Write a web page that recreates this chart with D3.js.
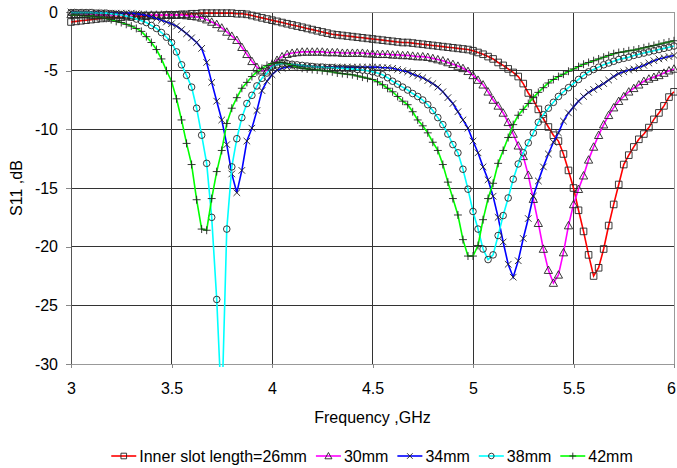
<!DOCTYPE html>
<html>
<head>
<meta charset="utf-8">
<script src="https://cdn.jsdelivr.net/npm/d3@7"></script>
<style>
body{margin:0;background:#fff;}
text{font-family:"Liberation Sans",Arial,sans-serif;fill:#000;}
</style>
</head>
<body>
<div class="canvas"></div>
<script>
/* S11 vs frequency for different inner slot lengths */

// frequency sweep, 3 - 6 GHz in 0.025 GHz steps
var freq = d3.range(0,121).map(function(i){return +(3+i*0.025).toFixed(3);});

// S11 in dB, one value per frequency point
var s26 = [-0.85,-0.8,-0.75,-0.7,-0.65,-0.6,-0.55,-0.5,-0.5,-0.45,
    -0.45,-0.4,-0.4,-0.35,-0.35,-0.35,-0.3,-0.3,-0.3,-0.25,
    -0.25,-0.25,-0.2,-0.2,-0.15,-0.15,-0.1,-0.1,-0.1,-0.1,
    -0.1,-0.1,-0.1,-0.15,-0.15,-0.2,-0.3,-0.4,-0.5,-0.6,
    -0.7,-0.8,-0.9,-1.0,-1.1,-1.2,-1.3,-1.4,-1.5,-1.6,
    -1.7,-1.8,-1.9,-1.95,-2.0,-2.05,-2.1,-2.15,-2.2,-2.25,
    -2.3,-2.35,-2.4,-2.45,-2.5,-2.55,-2.6,-2.6,-2.65,-2.7,
    -2.75,-2.8,-2.85,-2.9,-2.95,-3.0,-3.05,-3.1,-3.15,-3.2,
    -3.3,-3.45,-3.6,-3.8,-4.0,-4.3,-4.55,-4.85,-5.15,-5.5,
    -6.1,-6.9,-7.5,-8.3,-9.1,-9.8,-10.5,-11.0,-12.1,-13.5,
    -15.0,-16.9,-18.7,-20.7,-22.5,-21.8,-20.2,-18.2,-16.4,-14.7,
    -13.0,-12.2,-11.5,-10.85,-10.4,-9.85,-9.15,-8.6,-8.0,-7.25,
    -6.8];
var s30 = [-0.2,-0.2,-0.2,-0.2,-0.25,-0.25,-0.25,-0.25,-0.25,-0.25,
    -0.25,-0.25,-0.25,-0.25,-0.25,-0.25,-0.25,-0.25,-0.25,-0.25,
    -0.25,-0.25,-0.25,-0.3,-0.35,-0.4,-0.5,-0.65,-0.85,-1.05,
    -1.35,-1.7,-2.05,-2.4,-3.0,-3.6,-4.2,-4.7,-5.0,-5.0,
    -4.5,-4.1,-3.8,-3.6,-3.5,-3.45,-3.4,-3.4,-3.4,-3.4,
    -3.4,-3.45,-3.45,-3.45,-3.5,-3.5,-3.5,-3.5,-3.5,-3.55,
    -3.55,-3.6,-3.6,-3.6,-3.65,-3.65,-3.7,-3.7,-3.75,-3.8,
    -3.8,-3.85,-3.95,-4.05,-4.15,-4.3,-4.45,-4.6,-4.8,-5.05,
    -5.4,-5.8,-6.2,-6.8,-7.5,-8.0,-8.6,-9.4,-10.4,-11.4,
    -12.3,-13.9,-15.95,-18.0,-20.2,-22.0,-23.1,-22.4,-20.5,-18.2,
    -16.4,-15.1,-13.95,-12.6,-11.5,-10.5,-9.6,-8.8,-8.15,-7.6,
    -7.2,-6.8,-6.5,-6.2,-5.9,-5.7,-5.55,-5.4,-5.2,-5.0,
    -4.85];
var s34 = [0,-0.05,-0.05,-0.05,-0.05,-0.05,-0.05,-0.1,-0.1,-0.1,
    -0.1,-0.1,-0.1,-0.15,-0.2,-0.3,-0.4,-0.55,-0.7,-0.85,
    -1.0,-1.2,-1.5,-1.85,-2.2,-2.6,-3.1,-4.3,-6.0,-7.6,
    -9.2,-11.3,-13.8,-15.4,-13.5,-11.0,-9.9,-8.4,-6.7,-5.9,
    -5.35,-4.95,-4.8,-4.7,-4.65,-4.6,-4.6,-4.6,-4.65,-4.65,
    -4.7,-4.7,-4.7,-4.7,-4.7,-4.7,-4.7,-4.7,-4.7,-4.7,
    -4.7,-4.7,-4.75,-4.75,-4.8,-4.9,-5.0,-5.1,-5.3,-5.45,
    -5.6,-5.85,-6.1,-6.4,-6.8,-7.3,-7.8,-8.5,-9.2,-9.9,
    -11.0,-12.0,-13.2,-14.3,-15.7,-17.5,-19.6,-21.5,-22.6,-21.2,
    -19.3,-17.6,-15.7,-14.4,-13.2,-12.1,-11.1,-10.3,-9.3,-8.6,
    -8.1,-7.6,-7.2,-6.85,-6.6,-6.35,-6.1,-5.8,-5.5,-5.25,
    -5.1,-4.95,-4.85,-4.7,-4.55,-4.35,-4.15,-4.0,-3.9,-3.8,
    -3.7];
var s38 = [-0.05,-0.05,-0.05,-0.05,-0.05,-0.1,-0.1,-0.1,-0.15,-0.2,
    -0.25,-0.35,-0.45,-0.6,-0.75,-0.9,-1.15,-1.4,-1.75,-2.15,
    -2.6,-3.4,-4.5,-5.4,-6.4,-8.2,-10.5,-12.9,-17.5,-24.5,
    -34.0,-18.5,-13.2,-10.8,-9.0,-7.8,-7.1,-6.3,-5.65,-5.2,
    -4.65,-4.5,-4.4,-4.4,-4.45,-4.5,-4.55,-4.6,-4.65,-4.7,
    -4.7,-4.75,-4.75,-4.8,-4.8,-4.85,-4.85,-4.9,-4.95,-5.0,
    -5.1,-5.2,-5.35,-5.6,-5.9,-6.15,-6.4,-6.65,-6.95,-7.2,
    -7.5,-7.9,-8.4,-9.0,-9.6,-10.4,-11.3,-12.0,-13.4,-15.1,
    -17.0,-18.5,-20.2,-21.1,-20.7,-19.05,-17.35,-15.85,-14.25,-12.95,
    -12.0,-11.15,-10.3,-9.4,-8.75,-8.2,-7.7,-7.2,-6.8,-6.45,
    -6.1,-5.75,-5.4,-5.1,-4.9,-4.7,-4.5,-4.35,-4.2,-4.05,
    -3.95,-3.85,-3.7,-3.6,-3.5,-3.4,-3.3,-3.2,-3.1,-3.0,
    -2.9];
var s42 = [-0.25,-0.25,-0.3,-0.3,-0.35,-0.4,-0.45,-0.55,-0.65,-0.8,
    -0.9,-1.05,-1.2,-1.4,-1.65,-2.1,-2.6,-3.2,-4.0,-5.0,
    -5.9,-7.4,-9.2,-11.2,-13.0,-16.0,-18.5,-18.6,-15.9,-13.6,
    -11.8,-9.5,-8.2,-7.3,-6.5,-6.0,-5.5,-5.1,-4.8,-4.55,
    -4.4,-4.3,-4.3,-4.4,-4.55,-4.7,-4.8,-4.85,-4.9,-4.95,
    -5.0,-5.05,-5.1,-5.2,-5.25,-5.3,-5.35,-5.45,-5.55,-5.65,
    -5.75,-5.95,-6.2,-6.5,-6.8,-7.2,-7.6,-7.9,-8.5,-9.2,
    -9.7,-10.3,-11.1,-11.8,-13.0,-14.5,-15.9,-17.3,-19.4,-20.8,
    -20.8,-19.9,-17.7,-15.9,-14.6,-12.9,-11.8,-10.7,-9.6,-8.8,
    -8.3,-7.8,-7.3,-6.85,-6.45,-6.05,-5.75,-5.5,-5.3,-5.05,
    -4.85,-4.65,-4.45,-4.3,-4.15,-4.0,-3.85,-3.7,-3.55,-3.45,
    -3.4,-3.3,-3.25,-3.15,-3.05,-2.95,-2.85,-2.75,-2.65,-2.55,
    -2.45];

var seriesNames = ["Inner slot length=26mm","30mm","34mm","38mm","42mm"];
var seriesColors = ["#ff0000","#ff00ff","#0000ff","#00ffff","#00ff00"];
var seriesMarkers = ["square","triangle","cross","circle","plus"];
var xTicks = [3,3.5,4,4.5,5,5.5,6];
var yTicks = [0,-5,-10,-15,-20,-25,-30];

var series = [s26,s30,s34,s38,s42].map(function(vals,k){
    return {
        name:seriesNames[k],
        color:seriesColors[k],
        marker:seriesMarkers[k],
        values:vals.map(function(v,i){return {f:freq[i],s:v};})
    };
});

/* canvas */
var margin = {t:12,r:3,b:104,l:71};
var W = 677, H = 468;
var width = W - margin.l - margin.r,
    height = H - margin.t - margin.b;

var svg = d3.select('.canvas')
    .append('svg')
    .attr('width',W)
    .attr('height',H);
var canvas = svg.append('g')
    .attr('transform','translate('+margin.l+','+margin.t+')');

var x = d3.scaleLinear().domain([3,6]).range([0,width]);
var y = d3.scaleLinear().domain([-30,0]).range([height,0]);

// grid
canvas.append('g').selectAll('line.vg')
    .data(xTicks.slice(1,-1))
    .enter().append('line')
    .attr('x1',function(d){return x(d)}).attr('x2',function(d){return x(d)})
    .attr('y1',0).attr('y2',height)
    .style('stroke','#333').style('shape-rendering','crispEdges');
canvas.append('g').selectAll('line.hg')
    .data(yTicks.slice(1,-1))
    .enter().append('line')
    .attr('x1',0).attr('x2',width)
    .attr('y1',function(d){return y(d)}).attr('y2',function(d){return y(d)})
    .style('stroke','#333').style('shape-rendering','crispEdges');

canvas.append('rect')
    .attr('x',0).attr('y',0).attr('width',width).attr('height',height)
    .style('fill','none').style('stroke','#999').style('shape-rendering','crispEdges');
canvas.append('line')
    .attr('x1',0).attr('x2',0).attr('y1',0).attr('y2',height)
    .style('stroke','#555').style('shape-rendering','crispEdges');

// axes
var xAxis = canvas.append('g')
    .attr('transform','translate(0,'+height+')')
    .call(d3.axisBottom(x).tickValues(xTicks).tickSize(4).tickPadding(15)
        .tickFormat(function(d){return String(d)}));
var yAxis = canvas.append('g')
    .call(d3.axisLeft(y).tickValues(yTicks).tickSize(5).tickPadding(8)
        .tickFormat(function(d){return String(d)}));
[xAxis,yAxis].forEach(function(a){
    a.select('.domain').remove();
    a.selectAll('line').style('stroke','#888').style('shape-rendering','crispEdges');
    a.selectAll('text').style('font-size','16px').style('font-family','"Liberation Sans",Arial,sans-serif');
});
// keep the last x label inside the page
xAxis.selectAll('.tick').filter(function(d){return d==6}).select('text').attr('dx',-3);

svg.append('text')
    .attr('x',margin.l+width/2).attr('y',423)
    .attr('text-anchor','middle').style('font-size','16px')
    .text('Frequency ,GHz');
svg.append('text')
    .attr('transform','translate(22,'+(margin.t+height/2)+') rotate(-90)')
    .attr('text-anchor','middle').style('font-size','16px')
    .text('S11 ,dB');

// curves
svg.append('defs').append('clipPath').attr('id','plotclip')
    .append('rect').attr('x',-8).attr('y',-8).attr('width',width+16).attr('height',height+11);

function markerPath(type,r){
    if(type=='square') return 'M'+(-r)+','+(-r)+'h'+(2*r)+'v'+(2*r)+'h'+(-2*r)+'z';
    if(type=='triangle') return 'M0,'+(-r*1.25)+'L'+(r*1.25)+','+(r)+'H'+(-r*1.25)+'Z';
    if(type=='cross') return 'M'+(-r)+','+(-r)+'L'+r+','+r+'M'+(-r)+','+r+'L'+r+','+(-r);
    if(type=='circle') return 'M'+r+',0A'+r+','+r+' 0 1,1 '+(-r)+',0A'+r+','+r+' 0 1,1 '+r+',0';
    return 'M'+(-r*1.2)+',0H'+(r*1.2)+'M0,'+(-r*1.2)+'V'+(r*1.2);
}

var line = d3.line()
    .x(function(d){return x(d.f)})
    .y(function(d){return y(d.s)});

var plot = canvas.append('g').attr('clip-path','url(#plotclip)');
series.forEach(function(sr){
    var g = plot.append('g');
    g.append('path')
        .datum(sr.values)
        .attr('d',line)
        .style('fill','none')
        .style('stroke',sr.color)
        .style('stroke-width',1.6);
    g.selectAll('path.mk')
        .data(sr.values)
        .enter().append('path')
        .attr('class','mk')
        .attr('transform',function(d){return 'translate('+x(d.f)+','+y(d.s)+')'})
        .attr('d',markerPath(sr.marker,3.3))
        .style('fill','none')
        .style('stroke','#222')
        .style('stroke-width',0.9);
});

// legend
var legend = svg.append('g');
var lx = 0;
series.forEach(function(sr,k){
    var item = legend.append('g').attr('transform','translate('+lx+',0)');
    item.append('line').attr('x1',0).attr('x2',25).attr('y1',0).attr('y2',0)
        .style('stroke',sr.color).style('stroke-width',1.6);
    item.append('path').attr('transform','translate(12.5,0)')
        .attr('d',markerPath(sr.marker,2.8))
        .style('fill','none').style('stroke','#222').style('stroke-width',0.9);
    var t = item.append('text').attr('x',28).attr('y',6)
        .style('font-size','16px').text(sr.name);
    lx += 28 + t.node().getComputedTextLength() + 9;
});
lx -= 9;
legend.attr('transform','translate('+(372-lx/2)+',456)');
</script>
</body>
</html>
